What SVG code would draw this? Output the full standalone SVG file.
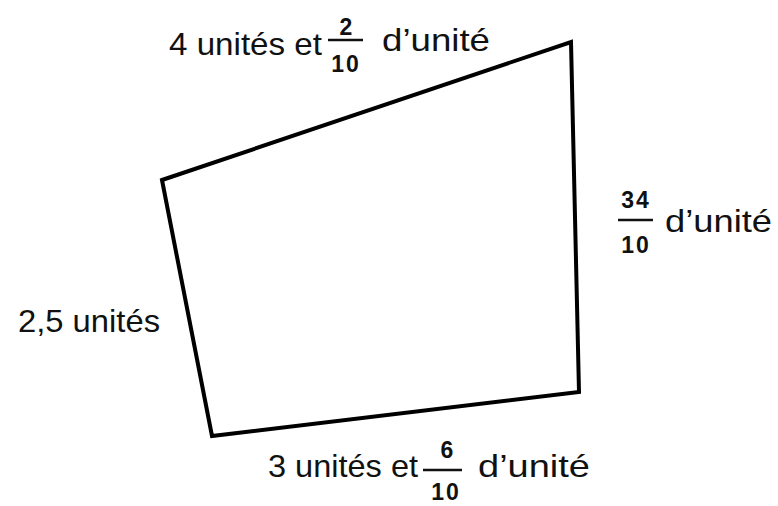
<svg xmlns="http://www.w3.org/2000/svg" width="778" height="506" viewBox="0 0 778 506">
<style>
.t{font-family:"Liberation Sans",Arial,sans-serif;font-size:32px;fill:#111}
.n{font-family:"Liberation Sans",Arial,sans-serif;font-size:23px;font-weight:bold;fill:#111;text-anchor:middle;letter-spacing:2px}
.bar{stroke:#111;stroke-width:2.5}
</style>
<rect width="778" height="506" fill="#fff"/>
<g id="shape">
<polygon points="162,180 571,42 579,392 212,436" fill="none" stroke="#000" stroke-width="4" stroke-linejoin="miter"/>
</g>
<g id="label-top">
<text class="t" x="169" y="55" textLength="153" lengthAdjust="spacingAndGlyphs">4 unités et</text>
<text class="n" x="347" y="35">2</text>
<line class="bar" x1="328" y1="40" x2="363" y2="40"/>
<text class="n" x="346" y="72">10</text>
<text class="t" x="382" y="51" textLength="108" lengthAdjust="spacingAndGlyphs">d’unité</text>
</g>
<g id="label-right">
<text class="n" x="636" y="208">34</text>
<line class="bar" x1="618" y1="220" x2="653" y2="220"/>
<text class="n" x="636" y="253">10</text>
<text class="t" x="665" y="232" textLength="107" lengthAdjust="spacingAndGlyphs">d’unité</text>
</g>
<g id="label-left">
<text class="t" x="18" y="332" textLength="142" lengthAdjust="spacingAndGlyphs">2,5 unités</text>
</g>
<g id="label-bottom">
<text class="t" x="268" y="477" textLength="150" lengthAdjust="spacingAndGlyphs">3 unités et</text>
<text class="n" x="448" y="458">6</text>
<line class="bar" x1="423" y1="470" x2="462" y2="470"/>
<text class="n" x="446" y="500">10</text>
<text class="t" x="478" y="477" textLength="112" lengthAdjust="spacingAndGlyphs">d’unité</text>
</g>
</svg>
